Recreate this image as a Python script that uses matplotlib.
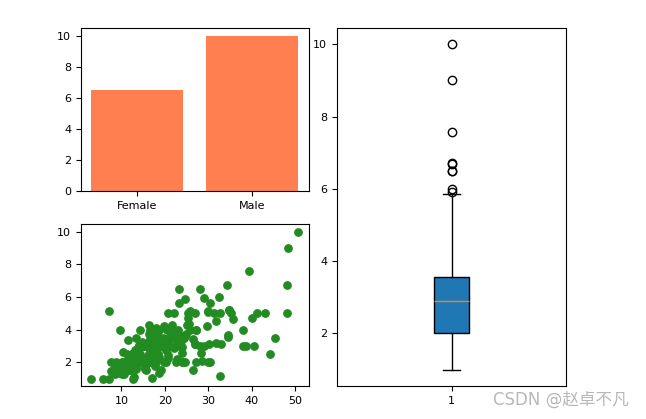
import matplotlib.pyplot as plt
import numpy as np

plt.rcParams['font.family'] = ['DejaVu Sans', 'Noto Sans CJK SC']
plt.rcParams['font.size'] = 8

# tips data: total bill / tip / sex
total_bill = [16.99, 10.34, 21.01, 23.68, 24.59, 25.29, 8.77, 26.88, 15.04, 14.78,
              10.27, 35.26, 15.42, 18.43, 14.83, 21.58, 10.33, 16.29, 16.97, 20.65,
              17.92, 20.29, 15.77, 39.42, 19.82, 17.81, 13.37, 12.69, 21.70, 19.65,
              9.55, 18.35, 15.06, 20.69, 17.78, 24.06, 16.31, 16.93, 18.69, 31.27,
              16.04, 17.46, 13.94, 9.68, 30.40, 18.29, 22.23, 32.40, 28.55, 18.04,
              12.54, 10.29, 34.81, 9.94, 25.56, 19.49, 38.01, 26.41, 11.24, 48.27,
              20.29, 13.81, 11.02, 18.29, 17.59, 20.08, 16.45, 3.07, 20.23, 15.01,
              12.02, 17.07, 26.86, 25.28, 14.73, 10.51, 17.92, 27.20, 22.76, 17.29,
              19.44, 16.66, 10.07, 32.68, 15.98, 34.83, 13.03, 18.28, 24.71, 21.16,
              28.97, 22.49, 5.75, 16.32, 22.75, 40.17, 27.28, 12.03, 21.01, 12.46,
              11.35, 15.38, 44.30, 22.42, 20.92, 15.36, 20.49, 25.21, 18.24, 14.31,
              14.00, 7.25, 38.07, 23.95, 25.71, 17.31, 29.93, 10.65, 12.43, 24.08,
              11.69, 13.42, 14.26, 15.95, 12.48, 29.80, 8.52, 14.52, 11.38, 22.82,
              19.08, 20.27, 11.17, 12.26, 18.26, 8.51, 10.33, 14.15, 16.00, 13.16,
              17.47, 34.30, 41.19, 27.05, 16.43, 8.35, 18.64, 11.87, 9.78, 7.51,
              14.07, 13.13, 17.26, 24.55, 19.77, 29.85, 48.17, 25.00, 13.39, 16.49,
              21.50, 12.66, 16.21, 13.81, 17.51, 24.52, 20.76, 31.71, 10.59, 10.63,
              50.81, 15.81, 7.25, 31.85, 16.82, 32.90, 17.89, 14.48, 9.60, 34.63,
              34.65, 23.33, 45.35, 23.17, 40.55, 20.69, 20.90, 30.46, 18.15, 23.10,
              15.69, 19.81, 28.44, 15.48, 16.58, 7.56, 10.34, 43.11, 13.00, 13.51,
              18.71, 12.74, 13.00, 16.40, 20.53, 16.47, 26.59, 38.73, 24.27, 12.76,
              30.06, 25.89, 48.33, 13.27, 28.17, 12.90, 28.15, 11.59, 7.74, 30.14,
              12.16, 13.42, 8.58, 15.98, 13.42, 16.27, 10.09, 20.45, 13.28, 22.12,
              24.01, 15.69, 11.61, 10.77, 15.53, 10.07, 12.60, 32.83, 35.83, 29.03,
              27.18, 22.67, 17.82, 18.78]
tip = [1.01, 1.66, 3.50, 3.31, 3.61, 4.71, 2.00, 3.12, 1.96, 3.23,
       1.71, 5.00, 1.57, 3.00, 3.02, 3.92, 1.67, 3.71, 3.50, 3.35,
       4.08, 2.75, 2.23, 7.58, 3.18, 2.34, 2.00, 2.00, 4.30, 3.00,
       1.45, 2.50, 3.00, 2.45, 3.27, 3.60, 2.00, 3.07, 2.31, 5.00,
       2.24, 2.54, 3.06, 1.32, 5.60, 3.00, 5.00, 6.00, 2.05, 3.00,
       2.50, 2.60, 5.20, 1.56, 4.34, 3.51, 3.00, 1.50, 1.76, 6.73,
       3.21, 2.00, 1.98, 3.76, 2.64, 3.15, 2.47, 1.00, 2.01, 2.09,
       1.97, 3.00, 3.14, 5.00, 2.20, 1.25, 3.08, 4.00, 3.00, 2.71,
       3.00, 3.40, 1.83, 5.00, 2.03, 5.17, 2.00, 4.00, 5.85, 3.00,
       3.00, 3.50, 1.00, 4.30, 3.25, 4.73, 4.00, 1.50, 3.00, 1.50,
       2.50, 3.00, 2.50, 3.48, 4.08, 1.64, 4.06, 4.29, 3.76, 4.00,
       3.00, 1.00, 4.00, 2.55, 4.00, 3.50, 5.07, 1.50, 1.80, 2.92,
       2.31, 1.68, 2.50, 2.00, 2.52, 4.20, 1.48, 2.00, 2.00, 2.18,
       1.50, 2.83, 1.50, 2.00, 3.25, 1.25, 2.00, 2.00, 2.00, 2.75,
       3.50, 6.70, 5.00, 5.00, 2.30, 1.50, 1.36, 1.63, 1.73, 2.00,
       2.50, 2.00, 2.74, 2.00, 2.00, 5.14, 5.00, 3.75, 2.61, 2.00,
       3.50, 2.50, 2.00, 2.00, 3.00, 3.48, 2.24, 4.50, 1.61, 2.00,
       10.00, 3.16, 5.15, 3.18, 4.00, 3.11, 2.00, 2.00, 4.00, 3.55,
       3.68, 5.65, 3.50, 6.50, 3.00, 5.00, 3.50, 2.00, 3.50, 4.00,
       1.50, 4.19, 2.56, 2.02, 4.00, 1.44, 2.00, 5.00, 2.00, 2.00,
       4.00, 2.01, 2.00, 2.50, 4.00, 3.23, 3.41, 3.00, 2.03, 2.23,
       2.00, 5.16, 9.00, 2.50, 6.50, 1.10, 3.00, 1.50, 1.44, 3.09,
       2.20, 3.48, 1.92, 3.00, 1.58, 2.50, 2.00, 3.00, 2.72, 2.88,
       2.00, 3.00, 3.39, 1.47, 3.00, 1.25, 1.00, 1.17, 4.67, 5.92,
       2.00, 2.00, 1.75, 3.00]

sexes = ['Female', 'Male']
max_tip = [6.5, 10.0]

fig = plt.figure(figsize=(6.46, 4.19), dpi=100)

ax1 = fig.add_axes([0.1254, 0.544, 0.3526, 0.389])
ax1.bar(sexes, max_tip, color='coral')

ax2 = fig.add_axes([0.1254, 0.079, 0.3526, 0.386])
ax2.scatter(total_bill, tip, color='forestgreen', s=28)

ax3 = fig.add_axes([0.5217, 0.079, 0.3545, 0.854])
ax3.boxplot(tip, patch_artist=True)

fig.text(0.974, 0.045, 'CSDN @赵卓不凡', ha='right', va='center',
         fontsize=12, color='#b8b8b8')

fig.savefig('out.png', dpi=100)
